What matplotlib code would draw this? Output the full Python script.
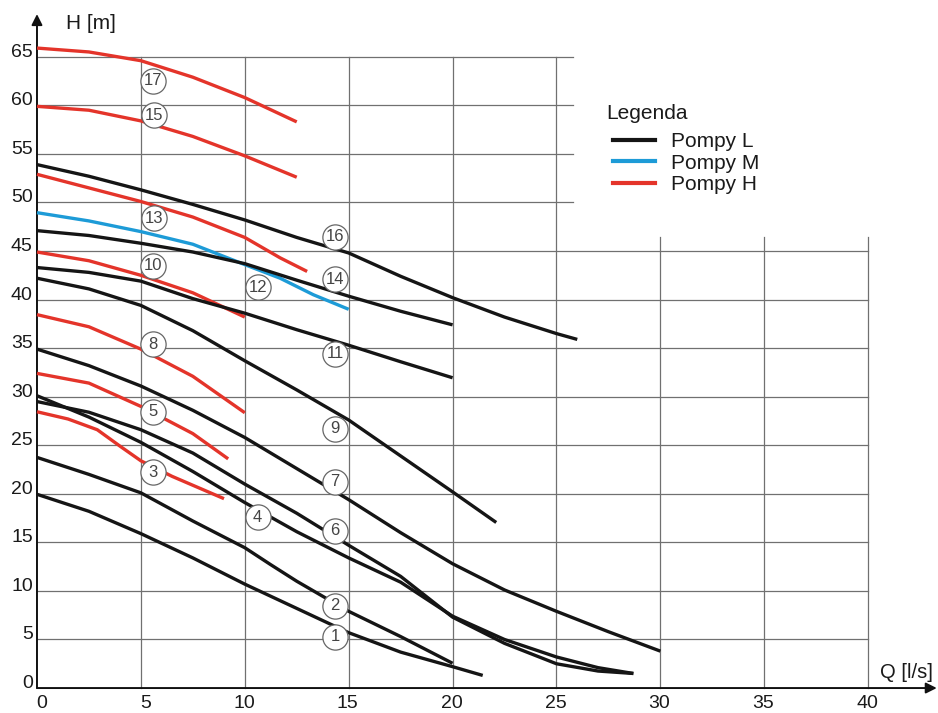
import matplotlib
matplotlib.use("Agg")
import matplotlib.pyplot as plt
from matplotlib.lines import Line2D

plt.rcParams['font.family'] = ['Liberation Sans', 'DejaVu Sans']

# pump curves: flow Q [l/s] and head H [m]
c1_q = [0, 2.5, 5, 7.5, 10, 12.5, 15, 17.5, 20, 21.45]
c1_h = [19.95, 18.2, 15.9, 13.4, 10.7, 8.2, 5.7, 3.7, 2.2, 1.3]
c2_q = [0, 2.5, 5, 7.5, 10, 11.25, 12.5, 15, 17.5, 20]
c2_h = [23.75, 22.0, 20.1, 17.2, 14.45, 12.7, 11.0, 7.9, 5.3, 2.55]
c3_q = [0, 1.5, 2.9, 4, 5, 6.5, 9]
c3_h = [28.45, 27.7, 26.6, 24.9, 23.4, 21.8, 19.5]
c4_q = [0, 2.5, 5, 7.5, 10, 12.5, 15, 17.5, 20, 22.5, 25, 27, 28.7]
c4_h = [30.1, 27.9, 25.3, 22.3, 19.1, 16.1, 13.4, 10.9, 7.4, 5.0, 3.2, 2.1, 1.5]
c5_q = [0, 2.5, 5, 7.5, 9.2]
c5_h = [32.4, 31.4, 29.0, 26.2, 23.6]
c6_q = [0, 2.5, 5, 7.5, 10, 12.5, 15, 17.5, 20, 22.5, 25, 27, 28.7]
c6_h = [29.5, 28.4, 26.6, 24.2, 21.0, 18.0, 14.7, 11.5, 7.3, 4.6, 2.5, 1.75, 1.5]
c7_q = [0, 2.5, 5, 7.5, 10, 12.5, 15, 17.5, 20, 22.5, 25, 27.5, 30]
c7_h = [34.9, 33.2, 31.1, 28.6, 25.8, 22.6, 19.4, 16.0, 12.8, 10.1, 7.9, 5.8, 3.8]
c8_q = [0, 2.5, 5, 7.5, 10]
c8_h = [38.45, 37.2, 34.9, 32.1, 28.35]
c9_q = [0, 2.5, 5, 7.5, 10, 12.5, 15, 17.5, 20, 22.1]
c9_h = [42.2, 41.1, 39.4, 36.8, 33.7, 30.7, 27.6, 23.9, 20.2, 17.05]
c10_q = [0, 2.5, 5, 7.5, 10]
c10_h = [44.9, 44.0, 42.5, 40.7, 38.2]
c11_q = [0, 2.5, 5, 7.5, 10, 12.5, 15, 17.5, 20]
c11_h = [43.3, 42.8, 41.9, 40.1, 38.6, 36.9, 35.3, 33.6, 31.95]
c12_q = [0, 2.5, 5, 7.5, 10, 11.7, 13.3, 15]
c12_h = [48.95, 48.1, 47.0, 45.7, 43.6, 42.2, 40.5, 39.0]
c13_q = [0, 2.5, 5, 7.5, 10, 11.7, 13]
c13_h = [52.9, 51.5, 50.1, 48.5, 46.4, 44.3, 42.9]
c14_q = [0, 2.5, 5, 7.5, 10, 12.5, 15, 17.5, 20]
c14_h = [47.1, 46.6, 45.8, 44.9, 43.7, 42.0, 40.35, 38.8, 37.4]
c15_q = [0, 2.5, 5, 7.5, 10, 12.5]
c15_h = [59.9, 59.5, 58.4, 56.8, 54.8, 52.6]
c16_q = [0, 2.5, 5, 7.5, 10, 12.5, 15, 17.5, 20, 22.5, 25, 26]
c16_h = [53.9, 52.7, 51.3, 49.8, 48.2, 46.4, 44.8, 42.4, 40.2, 38.2, 36.5, 35.9]
c17_q = [0, 2.5, 5, 7.5, 10, 12.5]
c17_h = [65.9, 65.5, 64.6, 62.9, 60.8, 58.3]

# series: L = black, M = blue, H = red
curves = [
    (c1_q, c1_h, 'L'), (c2_q, c2_h, 'L'), (c3_q, c3_h, 'H'),
    (c4_q, c4_h, 'L'), (c5_q, c5_h, 'H'), (c6_q, c6_h, 'L'),
    (c7_q, c7_h, 'L'), (c8_q, c8_h, 'H'), (c9_q, c9_h, 'L'),
    (c10_q, c10_h, 'H'), (c11_q, c11_h, 'L'), (c12_q, c12_h, 'M'),
    (c13_q, c13_h, 'H'), (c14_q, c14_h, 'L'), (c15_q, c15_h, 'H'),
    (c16_q, c16_h, 'L'), (c17_q, c17_h, 'H'),
]

# numbered circle labels
label_ids = [1, 2, 3, 4, 5, 6, 7, 8, 9, 10, 11, 12, 13, 14, 15, 16, 17]
label_q = [14.34, 14.34, 5.6, 10.62, 5.6, 14.34, 14.34, 5.6, 14.34,
           5.6, 14.34, 10.65, 5.63, 14.34, 5.63, 14.34, 5.6]
label_h = [5.28, 8.48, 22.2, 17.6, 28.45, 16.2, 21.25, 35.4, 26.7,
           43.5, 34.4, 41.27, 48.4, 42.1, 59.0, 46.45, 62.55]

x_ticks = [0, 5, 10, 15, 20, 25, 30, 35, 40]
y_ticks = [0, 5, 10, 15, 20, 25, 30, 35, 40, 45, 50, 55, 60, 65]

colors = {'L': '#151515', 'M': '#1d9bd7', 'H': '#e4342a'}
names = {'L': 'Pompy L', 'M': 'Pompy M', 'H': 'Pompy H'}
grid_c = '#707070'
text_c = '#1a1a1a'

fig = plt.figure(figsize=(9.38, 7.13), dpi=100)
ax = fig.add_axes([0, 0, 1, 1])
ax.set_xlim(-1.78, 43.36)
ax.set_ylim(-2.57, 70.85)
ax.axis('off')

# grid: lower part spans the full width, upper part stops near 26
for y in y_ticks[1:]:
    right = 40 if y <= 45 else 25.8
    ax.plot([0, right], [y, y], color=grid_c, lw=0.9, zorder=1)
for x in x_ticks[1:]:
    top = 65 if x <= 25 else 46.4
    ax.plot([x, x], [0, top], color=grid_c, lw=0.9, zorder=1)

# axes with arrows
ax.annotate('', xy=(0, 69.4), xytext=(0, 0),
            arrowprops=dict(arrowstyle='-|>', color='#111', lw=1.4,
                            mutation_scale=16, shrinkA=0, shrinkB=0))
ax.annotate('', xy=(43.3, 0), xytext=(0, 0),
            arrowprops=dict(arrowstyle='-|>', color='#111', lw=1.4,
                            mutation_scale=16, shrinkA=0, shrinkB=0))

for y in y_ticks:
    ax.text(-0.2, y, str(y), ha='right', va='baseline', fontsize=14,
            color=text_c)
for x in x_ticks:
    ax.text(x + 0.48, -0.7, str(x), ha='right', va='top', fontsize=14,
            color=text_c)

ax.text(1.4, 68.4, 'H [m]', ha='left', va='center', fontsize=15, color=text_c)
ax.text(43.1, 1.6, 'Q [l/s]', ha='right', va='center', fontsize=14.5, color=text_c)

for q, h, kind in curves:
    ax.plot(q, h, color=colors[kind], lw=2.4, solid_capstyle='butt',
            solid_joinstyle='round', zorder=3)

ax.scatter(label_q, label_h, s=330, facecolor='white', edgecolor='#666666',
           linewidth=0.9, zorder=4)
for n, q, h in zip(label_ids, label_q, label_h):
    ax.text(q, h, str(n), ha='center', va='center', fontsize=12,
            color='#444444', zorder=5)

# legend
ax.text(27.4, 59.2, 'Legenda', ha='left', va='center', fontsize=15, color=text_c)
handles = [Line2D([], [], color=colors[k], lw=3) for k in ['L', 'M', 'H']]
leg = ax.legend(handles, [names[k] for k in ['L', 'M', 'H']],
                loc='upper left',
                bbox_to_anchor=(613 / 938, 1 - 132 / 713),
                frameon=False, fontsize=15,
                handlelength=2.0, handletextpad=0.8,
                labelspacing=0.13, borderpad=0, borderaxespad=0)
for t in leg.get_texts():
    t.set_color(text_c)

fig.savefig('out.png', dpi=100)
